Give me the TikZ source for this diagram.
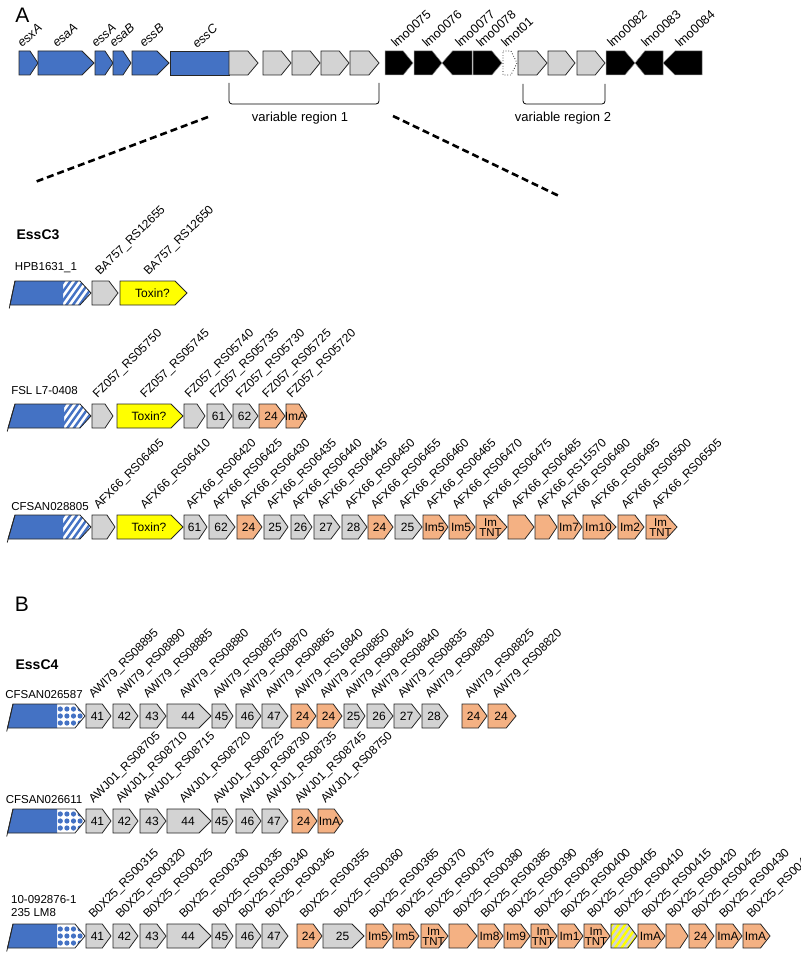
\documentclass[tikz,border=0pt]{standalone}
\usepackage{fontspec}
\setmainfont{Liberation Sans}
\definecolor{gblue}{HTML}{4472C4}
\definecolor{ggray}{HTML}{D3D3D3}
\definecolor{gorange}{HTML}{F4B183}
\definecolor{gyellow}{HTML}{FFFF00}
\tikzset{
 gout/.style={draw=black!85, line width=0.8pt, line join=miter},
 gg/.style={gout, fill=ggray},
 go/.style={gout, fill=gorange},
 gy/.style={gout, fill=gyellow},
 gb/.style={gout, fill=gblue},
 gk/.style={draw=black!45, line width=0.5pt, fill=black},
 gtext/.style={font=\fontsize{12}{12}\selectfont, inner sep=0pt},
 glab/.style={font=\fontsize{12}{12}\selectfont, rotate=45, anchor=base west, inner sep=0pt},
 tlab/.style={font=\fontsize{12.5}{12.5}\selectfont, rotate=42, anchor=base west, inner sep=0pt},
 tlabi/.style={tlab, font=\fontsize{12.5}{12.5}\selectfont\itshape},
 strain/.style={font=\fontsize{11.5}{13}\selectfont, inner sep=0pt},
 sect/.style={font=\fontsize{14}{14}\selectfont\bfseries, inner sep=0pt},
 panel/.style={font=\fontsize{21}{21}\selectfont, inner sep=0pt},
 vreg/.style={font=\fontsize{13}{13}\selectfont, inner sep=0pt},
 brack/.style={draw=black, line width=0.8pt, rounded corners=3pt},
 zoomline/.style={draw=black, line width=2.6pt, dash pattern=on 7pt off 4pt},
}
\newcommand{\ghead}[2]{\pgfmathsetmacro{\gh}{min(12,max(8,0.35*(#2-#1)))}}
\newcommand{\shR}[4]{\ghead{#1}{#2}\draw[#4] (#1,{#3-12}) -- ({#2-\gh},{#3-12}) -- (#2,#3) -- ({#2-\gh},{#3+12}) -- (#1,{#3+12}) -- cycle;}
\newcommand{\shL}[4]{\ghead{#1}{#2}\draw[#4] (#2,{#3-12}) -- ({#1+\gh},{#3-12}) -- (#1,#3) -- ({#1+\gh},{#3+12}) -- (#2,{#3+12}) -- cycle;}
\newcommand{\gtx}[4]{\node[gtext] (t#1-#3) at ({(#1+#2)/2-1},#3) {#4};}
\newcommand{\glb}[4]{\node[glab] (l#1-#3) at ({(#1+#2)/2-5},{#3-17}) {#4};}
\newcommand{\gene}[6]{\shR{#1}{#2}{#3}{#4}\gtx{#1}{#2}{#3}{#5}\glb{#1}{#2}{#3}{#6}}
\newcommand{\gblank}[5]{\shR{#1}{#2}{#3}{#4}\glb{#1}{#2}{#3}{#5}}
\newcommand{\gtnt}[4]{\shR{#1}{#2}{#3}{go}\node[gtext,align=center,font=\fontsize{11.5}{10.5}\selectfont] (t#1-#3) at ({(#1+#2)/2-1},{#3+0.5}) {Im\\TNT};\glb{#1}{#2}{#3}{#4}}
\newcommand{\gyg}[4]{%
 \ghead{#1}{#2}%
 \begin{scope}
 \clip (#1,{#3-12}) -- ({#2-\gh},{#3-12}) -- (#2,#3) -- ({#2-\gh},{#3+12}) -- (#1,{#3+12}) -- cycle;
 \fill[ggray] (#1,{#3-12}) rectangle (#2,{#3+12});
 \foreach \k in {-30,-23.5,...,30} \draw[gyellow, line width=2.3pt] ({#1+\k},{#3+14}) -- ({#1+\k+20},{#3-14});
 \end{scope}
 \shR{#1}{#2}{#3}{gout}\glb{#1}{#2}{#3}{#4}}
% truncated EssC gene: xb xt xsplit tip head yc type
\newcommand{\trunc}[7]{%
 \fill[gblue] (#1,{#6+12}) -- (#2,{#6-12}) -- (#3,{#6-12}) -- (#3,{#6+12}) -- cycle;
 \begin{scope}
 \clip (#3,{#6-12}) -- ({#4-#5},{#6-12}) -- (#4,#6) -- ({#4-#5},{#6+12}) -- (#3,{#6+12}) -- cycle;
 \ifnum#7=1
  \foreach \k in {-24,-17.5,...,34} \draw[gblue,line width=2.4pt] ({#3+\k},{#6+14}) -- ({#3+\k+20},{#6-14});
 \else
  \foreach \i in {0,...,4} \foreach \j in {0,1,2} \fill[gblue] ({#3+3.3+\i*6.6},{#6-7+\j*7}) circle (2.6pt);
 \fi
 \end{scope}
 \draw[gout] (#1,{#6+12}) -- (#2,{#6-12}) -- ({#4-#5},{#6-12}) -- (#4,#6) -- ({#4-#5},{#6+12}) -- cycle;
 \draw[gout] (#2,{#6-12}) -- ({#1-0.8},{#6+15.5});}
\begin{document}
\begin{tikzpicture}[x=1pt,y=-1pt]
\useasboundingbox (0,0) rectangle (800,955);
\clip (0,0) rectangle (800,955);
% ---------------- Panel A ----------------
\node[panel] (pA) at (22.5,15) {A};
% top locus
\shR{19}{38}{63}{gb}
\shR{38}{94}{63}{gb}
\shR{95}{113}{63}{gb}
\shR{113}{131}{63}{gb}
\shR{132}{169}{63}{gb}
\draw[gb] (170,51) rectangle (229,75);
\shR{229}{258}{63}{gg}
\shR{263}{291}{63}{gg}
\shR{292}{320}{63}{gg}
\shR{321}{349}{63}{gg}
\shR{350}{379}{63}{gg}
\shR{385}{413}{63}{gk}
\shR{414}{442}{63}{gk}
\shL{442}{472}{63}{gk}
\shR{473}{502}{63}{gk}
\draw[draw=black, dotted, line width=0.7pt, fill=white] (503,51) -- (511,51) -- (517,63) -- (511,75) -- (503,75) -- cycle;
\shR{518}{547}{63}{gg}
\shR{548}{575}{63}{gg}
\shR{577}{605}{63}{gg}
\shR{606}{635}{63}{gk}
\shL{635}{663}{63}{gk}
\shL{663}{702}{63}{gk}
\node[tlabi] (nesxA) at (22,48) {esxA};
\node[tlabi] (nesaA) at (57,48) {esaA};
\node[tlabi] (nessA) at (96,48) {essA};
\node[tlabi] (nesaB) at (114,48) {esaB};
\node[tlabi] (nessB) at (144,48) {essB};
\node[tlabi] (nessC) at (197,49) {essC};
\node[tlab] (n75) at (396,48) {lmo0075};
\node[tlab] (n76) at (427,48) {lmo0076};
\node[tlab] (n77) at (460,48) {lmo0077};
\node[tlab] (n78) at (481,48) {lmo0078};
\node[tlab] (nt01) at (506,48) {lmot01};
\node[tlab] (n82) at (612,48) {lmo0082};
\node[tlab] (n83) at (646,48) {lmo0083};
\node[tlab] (n84) at (680,48) {lmo0084};
% brackets
\draw[brack] (229,83) -- (229,104) -- (379,104) -- (379,83);
\node[vreg] (vr1) at (300,118) {variable region 1};
\draw[brack] (523,84) -- (523,104) -- (605,104) -- (605,84);
\node[vreg] (vr2) at (563,118) {variable region 2};
% zoom lines
\coordinate (zl1) at (208,117);
\coordinate (zl2) at (35,182);
\coordinate (zr1) at (393,116);
\coordinate (zr2) at (559,196);
\draw[zoomline] (zl1) -- (zl2);
\draw[zoomline] (zr1) -- (zr2);
% EssC3
\node[sect] (essc3) at (38,235) {EssC3};
\node[strain] (s1) at (46,268) {HPB1631\_1};
\trunc{10}{15}{63}{91}{11}{293}{1}
\gblank{92}{118}{293}{gg}{BA757\_RS12655}
\gene{120}{187}{293}{gy}{Toxin?}{BA757\_RS12650}
% FSL
\node[strain] (s2) at (44.5,391) {FSL L7-0408};
\trunc{8}{15}{64}{91}{11}{416}{1}
\gblank{92}{113}{416}{gg}{FZ057\_RS05750}
\gene{117}{183}{416}{gy}{Toxin?}{FZ057\_RS05745}
\gblank{184}{205}{416}{gg}{FZ057\_RS05740}
\gene{207}{232}{416}{gg}{61}{FZ057\_RS05735}
\gene{233}{258}{416}{gg}{62}{FZ057\_RS05730}
\gene{259}{285}{416}{go}{24}{FZ057\_RS05725}
\gene{286}{307}{416}{go}{ImA}{FZ057\_RS05720}
% CFSAN028805
\node[strain] (s3) at (50,507) {CFSAN028805};
\trunc{8}{15}{63}{91}{11}{527}{1}
\gblank{92}{115}{527}{gg}{AFX66\_RS06405}
\gene{117}{183}{527}{gy}{Toxin?}{AFX66\_RS06410}
\gene{184}{207}{527}{gg}{61}{AFX66\_RS06420}
\gene{209}{235}{527}{gg}{62}{AFX66\_RS06425}
\gene{237}{262}{527}{go}{24}{AFX66\_RS06430}
\gene{264}{288}{527}{gg}{25}{AFX66\_RS06435}
\gene{291}{312}{527}{gg}{26}{AFX66\_RS06440}
\gene{314}{340}{527}{gg}{27}{AFX66\_RS06445}
\gene{342}{367}{527}{gg}{28}{AFX66\_RS06450}
\gene{368}{393}{527}{go}{24}{AFX66\_RS06455}
\gene{395}{422}{527}{gg}{25}{AFX66\_RS06460}
\gene{423}{448}{527}{go}{Im5}{AFX66\_RS06465}
\gene{449}{475}{527}{go}{Im5}{AFX66\_RS06470}
\gtnt{476}{507}{527}{AFX66\_RS06475}
\gblank{508}{534}{527}{go}{AFX66\_RS06485}
\gblank{535}{557}{527}{go}{AFX66\_RS15570}
\gene{558}{582}{527}{go}{Im7}{AFX66\_RS06490}
\gene{583}{616}{527}{go}{Im10}{AFX66\_RS06495}
\gene{618}{644}{527}{go}{Im2}{AFX66\_RS06500}
\gtnt{646}{677}{527}{AFX66\_RS06505}
% ---------------- Panel B ----------------
\node[panel] (pB) at (22,604) {B};
\node[sect] (essc4) at (37,665) {EssC4};
\node[strain] (s4) at (44,695) {CFSAN026587};
\trunc{7.5}{13}{57}{85}{10}{716}{2}
\gene{86}{111}{716}{gg}{41}{AWI79\_RS08895}
\gene{113}{138}{716}{gg}{42}{AWI79\_RS08890}
\gene{140}{166}{716}{gg}{43}{AWI79\_RS08885}
\gene{167}{211}{716}{gg}{44}{AWI79\_RS08880}
\gene{212}{233}{716}{gg}{45}{AWI79\_RS08875}
\gene{236}{261}{716}{gg}{46}{AWI79\_RS08870}
\gene{262}{288}{716}{gg}{47}{AWI79\_RS08865}
\gene{291}{316}{716}{go}{24}{AWI79\_RS16840}
\gene{317}{342}{716}{go}{24}{AWI79\_RS08850}
\gene{344}{365}{716}{gg}{25}{AWI79\_RS08845}
\gene{367}{393}{716}{gg}{26}{AWI79\_RS08840}
\gene{394}{421}{716}{gg}{27}{AWI79\_RS08835}
\gene{422}{448}{716}{gg}{28}{AWI79\_RS08830}
\gene{462}{487}{716}{go}{24}{AWI79\_RS08825}
\gene{488}{516}{716}{go}{24}{AWI79\_RS08820}
% CFSAN026611
\node[strain] (s5) at (44,800) {CFSAN026611};
\trunc{7.5}{13}{57}{85}{10}{821}{2}
\gene{86}{111}{821}{gg}{41}{AWJ01\_RS08705}
\gene{113}{138}{821}{gg}{42}{AWJ01\_RS08710}
\gene{140}{166}{821}{gg}{43}{AWJ01\_RS08715}
\gene{167}{211}{821}{gg}{44}{AWJ01\_RS08720}
\gene{212}{233}{821}{gg}{45}{AWJ01\_RS08725}
\gene{236}{261}{821}{gg}{46}{AWJ01\_RS08730}
\gene{262}{288}{821}{gg}{47}{AWJ01\_RS08735}
\gene{292}{317}{821}{go}{24}{AWJ01\_RS08745}
\gene{318}{343}{821}{go}{ImA}{AWJ01\_RS08750}
% 10-092876-1 235 LM8
\node[strain, anchor=west, align=left] (s6) at (11,906.5) {10-092876-1\\235 LM8};
\trunc{7.5}{13}{57}{85}{10}{936}{2}
\gene{86}{111}{936}{gg}{41}{B0X25\_RS00315}
\gene{113}{138}{936}{gg}{42}{B0X25\_RS00320}
\gene{140}{166}{936}{gg}{43}{B0X25\_RS00325}
\gene{167}{211}{936}{gg}{44}{B0X25\_RS00330}
\gene{212}{233}{936}{gg}{45}{B0X25\_RS00335}
\gene{236}{261}{936}{gg}{46}{B0X25\_RS00340}
\gene{262}{288}{936}{gg}{47}{B0X25\_RS00345}
\gene{297}{322}{936}{go}{24}{B0X25\_RS00355}
\gene{323}{364}{936}{gg}{25}{B0X25\_RS00360}
\gene{366}{392}{936}{go}{Im5}{B0X25\_RS00365}
\gene{393}{419}{936}{go}{Im5}{B0X25\_RS00370}
\gtnt{421}{448}{936}{B0X25\_RS00375}
\gblank{449}{477}{936}{go}{B0X25\_RS00380}
\gene{478}{503}{936}{go}{Im8}{B0X25\_RS00385}
\gene{504}{530}{936}{go}{Im9}{B0X25\_RS00390}
\gtnt{531}{557}{936}{B0X25\_RS00395}
\gene{558}{583}{936}{go}{Im1}{B0X25\_RS00400}
\gtnt{584}{610}{936}{B0X25\_RS00405}
\gyg{611}{637}{936}{B0X25\_RS00410}
\gene{638}{665}{936}{go}{ImA}{B0X25\_RS00415}
\gblank{666}{688}{936}{go}{B0X25\_RS00420}
\gene{689}{714}{936}{go}{24}{B0X25\_RS00425}
\gene{716}{742}{936}{go}{ImA}{B0X25\_RS00430}
\gene{743}{770}{936}{go}{ImA}{B0X25\_RS00435}
\end{tikzpicture}
\end{document}
